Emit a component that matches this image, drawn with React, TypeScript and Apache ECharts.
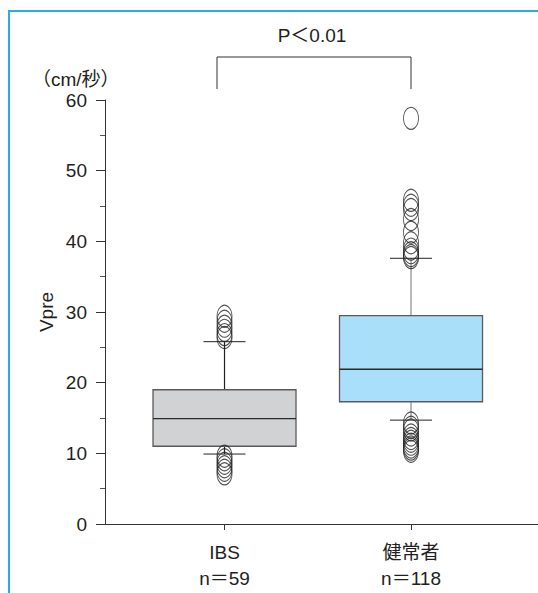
import React, { useEffect, useRef } from "react";
import * as echarts from "echarts";

const categories = ["IBS", "健常者"];
const sampleSizes = ["n＝59", "n＝118"];
const lowerWhisker = [9.9, 14.7];
const q1Values = [11.0, 17.3];
const medianValues = [14.9, 21.9];
const q3Values = [19.0, 29.5];
const upperWhisker = [25.8, 37.6];
const ibsOutliers = [29.4, 28.7, 28.0, 27.4, 26.8, 26.4, 9.6, 9.1, 8.6, 8.1, 7.6, 7.1];
const healthyOutliers = [
  57.4, 45.8, 45.1, 44.5, 43.1, 41.3, 39.8, 38.9, 38.4, 38.0, 37.7,
  14.3, 13.7, 13.3, 12.6, 12.1, 11.7, 11.3, 10.9, 10.6, 10.3,
];
const yTicks = [0, 10, 20, 30, 40, 50, 60];
const yTitle = "Vpre";
const yUnit = "（cm/秒）";
const pText = "P＜0.01";

const FONT = '"Liberation Sans", Arial, "Noto Sans CJK JP", sans-serif';
const boxFills = ["#d1d2d4", "#a9dff9"];
const whiskerColors = ["#222222", "#8a8a8a"];

export default function App() {
  const ref = useRef<HTMLDivElement>(null);
  useEffect(() => {
    if (!ref.current) return;
    const chart = echarts.init(ref.current, null, { renderer: "svg" });
    const boxData = categories.map((_, i) => [
      i + 1,
      lowerWhisker[i],
      q1Values[i],
      medianValues[i],
      q3Values[i],
      upperWhisker[i],
    ]);
    const outlierData = [
      ...ibsOutliers.map((v) => [1, v]),
      ...healthyOutliers.map((v) => [2, v]),
    ];
    const option: any = {
      animation: false,
      backgroundColor: "#ffffff",
      grid: {
        left: 105,
        top: 100,
        width: 450,
        bottom: 69,
        containLabel: false,
        outerBoundsMode: "none",
      },
      xAxis: {
        type: "value",
        min: 0.3592,
        max: 2.772,
        splitLine: { show: false },
        axisLine: { show: true, lineStyle: { color: "#333", width: 1 } },
        axisTick: {
          show: true,
          customValues: [1, 2],
          length: 6,
          lineStyle: { color: "#333" },
        },
        axisLabel: {
          customValues: [1, 2],
          margin: 15,
          fontSize: 19,
          lineHeight: 26,
          color: "#231f20",
          fontFamily: FONT,
          formatter: (v: number) => {
            const i = Math.round(v) - 1;
            return categories[i] + "\n" + sampleSizes[i];
          },
        },
      },
      yAxis: {
        type: "value",
        min: 0,
        max: 60,
        interval: 10,
        splitLine: { show: false },
        axisLine: { show: true, lineStyle: { color: "#333", width: 1 } },
        axisTick: { show: true, length: 9, lineStyle: { color: "#333" } },
        minorTick: { show: true, splitNumber: 2, length: 5, lineStyle: { color: "#555" } },
        axisLabel: {
          fontSize: 19,
          margin: 18,
          color: "#231f20",
          fontFamily: FONT,
          formatter: (v: number) => (yTicks.includes(v) ? String(v) : ""),
        },
      },
      graphic: [
        {
          type: "rect",
          shape: { x: 9, y: 11, width: 600, height: 700 },
          style: { fill: "none", stroke: "#25aee6", lineWidth: 2 },
          silent: true,
        },
        {
          type: "text",
          x: 312,
          y: 35,
          style: {
            text: pText,
            fontSize: 19,
            fontFamily: FONT,
            fill: "#231f20",
            textAlign: "center",
            textVerticalAlign: "middle",
          },
        },
        {
          type: "polyline",
          shape: { points: [[217, 89], [217, 57], [411, 57], [411, 89]] },
          style: { stroke: "#333", lineWidth: 1, fill: "none" },
        },
        {
          type: "text",
          x: 32,
          y: 79,
          style: {
            text: yUnit,
            fontSize: 19,
            fontFamily: FONT,
            fill: "#231f20",
            textAlign: "left",
            textVerticalAlign: "middle",
          },
        },
        {
          type: "text",
          x: 46,
          y: 312,
          rotation: Math.PI / 2,
          style: {
            text: yTitle,
            fontSize: 19,
            fontFamily: FONT,
            fill: "#231f20",
            textAlign: "center",
            textVerticalAlign: "middle",
          },
        },
      ],
      series: [
        {
          type: "custom",
          data: boxData,
          encode: { x: 0, y: [1, 2, 3, 4, 5] },
          renderItem: (params: any, api: any) => {
            const idx = params.dataIndex;
            const x = api.value(0);
            const pLow = api.coord([x, api.value(1)]);
            const pQ1 = api.coord([x, api.value(2)]);
            const pMed = api.coord([x, api.value(3)]);
            const pQ3 = api.coord([x, api.value(4)]);
            const pHigh = api.coord([x, api.value(5)]);
            const cx = pMed[0];
            const half = 71.5;
            const cap = 21;
            const wc = whiskerColors[idx];
            return {
              type: "group",
              children: [
                {
                  type: "line",
                  shape: { x1: cx, y1: pQ3[1], x2: cx, y2: pHigh[1] },
                  style: { stroke: wc, lineWidth: 1.2 },
                },
                {
                  type: "line",
                  shape: { x1: cx, y1: pQ1[1], x2: cx, y2: pLow[1] },
                  style: { stroke: wc, lineWidth: 1.2 },
                },
                {
                  type: "line",
                  shape: { x1: cx - cap, y1: pHigh[1], x2: cx + cap, y2: pHigh[1] },
                  style: { stroke: "#222", lineWidth: 1 },
                },
                {
                  type: "line",
                  shape: { x1: cx - cap, y1: pLow[1], x2: cx + cap, y2: pLow[1] },
                  style: { stroke: "#222", lineWidth: 1 },
                },
                {
                  type: "rect",
                  shape: {
                    x: cx - half,
                    y: pQ3[1],
                    width: half * 2,
                    height: pQ1[1] - pQ3[1],
                  },
                  style: { fill: boxFills[idx], stroke: "#5a5a5a", lineWidth: 1.3 },
                },
                {
                  type: "line",
                  shape: { x1: cx - half, y1: pMed[1], x2: cx + half, y2: pMed[1] },
                  style: { stroke: "#2a2a2a", lineWidth: 1.3 },
                },
              ],
            };
          },
          z: 2,
        },
        {
          type: "scatter",
          data: outlierData,
          symbol: "circle",
          symbolSize: [15, 22],
          itemStyle: { color: "none", borderColor: "#222", borderWidth: 1 },
          z: 3,
        },
      ],
    };
    chart.setOption(option);
    return () => chart.dispose();
  }, []);
  return (
    <div
      ref={ref}
      style={{
        position: "fixed",
        left: 0,
        top: 0,
        width: 538,
        height: 593,
        background: "#fff",
      }}
    />
  );
}
